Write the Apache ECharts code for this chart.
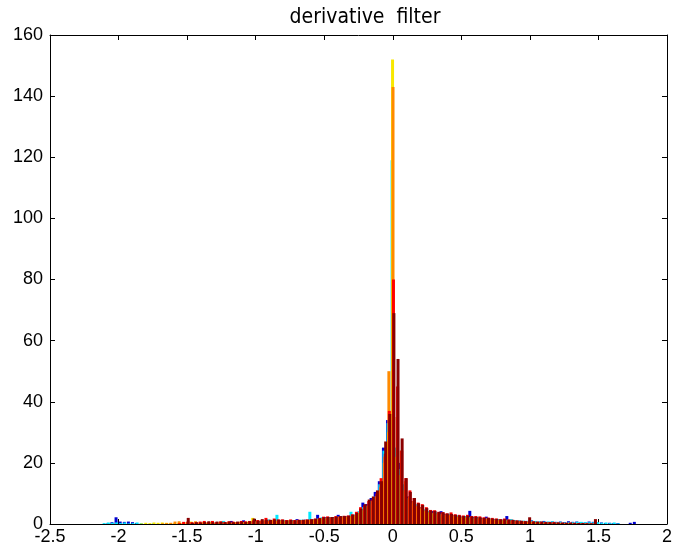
<!DOCTYPE html>
<html>
<head>
<meta charset="utf-8">
<script src="https://cdn.jsdelivr.net/npm/echarts@6/dist/echarts.min.js"></script>
<style>
  html, body { margin: 0; padding: 0; background: #fff; }
  #chart { width: 675px; height: 557px; }
</style>
</head>
<body>
<div id="chart"></div>
<script>
// bin centres, 0.03 wide, from -2.10 to 1.80
var binWidth = 0.03;
var bins = [];
for (var k = -70; k <= 60; k++) {
    bins.push(+(k * binWidth).toFixed(2));
}

// counts per bin, one array per column (jet colours)
var blueCounts = [
    0, 0.2, 0.6, 2.2, 0.8, 0.7, 0.8, 0.6, 0.3, 0,
    0, 0, 0, 0, 0, 0, 0, 0, 0, 0,
    0, 0, 0, 0, 0, 0, 0, 0, 0.2, 0.3,
    0.3, 1.0, 0.4, 0.5, 1.2, 0.6, 0.8, 0.7, 0.9, 0.8,
    1.1, 1.0, 1.2, 1.3, 1.0, 1.1, 1.2, 1.6, 1.3, 1.4,
    1.5, 1.6, 3.0, 2.0, 2.2, 2.0, 2.3, 3.0, 2.5, 2.6,
    2.8, 3.0, 4.0, 7.0, 6.5, 8.5, 10.5, 14, 25, 34,
    30, 20, 20, 12, 9, 7.5, 6, 5.5, 4.5, 4,
    4.2, 3.5, 4.2, 3.2, 3.0, 2.8, 2.6, 2.4, 2.5, 4.3,
    2.2, 2.0, 1.9, 2.4, 1.7, 1.6, 1.5, 1.4, 2.6, 1.3,
    1.2, 1.1, 1.0, 1.0, 1.2, 0.9, 0.8, 1.0, 0.7, 0.8,
    0.7, 0.8, 0.6, 0.9, 0.7, 0.8, 0.6, 0.5, 0.8, 0.7,
    0.4, 0.5, 0.3, 0.4, 0.3, 0.3, 0, 0, 0.4, 0.7, 0
];
var cyanCounts = [
    0.3, 0.5, 0.4, 0.5, 0.3, 0.5, 0.2, 0.3, 0.5, 0.3,
    0, 0, 0.2, 0, 0, 0, 0, 0, 0, 0,
    0, 0, 0, 0, 0.2, 0, 0.3, 0, 0.3, 1.0,
    0.4, 0.5, 0.3, 0.6, 0.5, 0.4, 0.6, 0.8, 0.6, 1.0,
    1.5, 1.2, 3.0, 1.1, 1.2, 1.0, 1.3, 1.2, 1.4, 1.2,
    4.0, 1.5, 1.8, 2.2, 2.0, 2.3, 2.1, 2.4, 2.6, 2.5,
    4.0, 3.1, 4.2, 5.5, 6.0, 7.5, 9.0, 13, 24, 33,
    119, 25, 18, 13, 8.5, 7, 6.5, 5, 4.8, 4.2,
    3.6, 3.8, 3.3, 3.0, 3.4, 2.6, 2.8, 2.2, 2.6, 2.3,
    2.0, 2.3, 1.8, 1.9, 1.8, 1.5, 1.6, 1.3, 1.4, 1.6,
    1.3, 1.2, 1.1, 1.0, 1.1, 1.0, 0.9, 0.8, 0.8, 0.9,
    0.6, 0.7, 0.5, 0.6, 0.6, 0.7, 0.7, 0.6, 0.6, 0.6,
    0.6, 0.4, 0.5, 0.3, 0.5, 0.2, 0, 0, 0, 0, 0
];
var yellowCounts = [
    0, 0, 0, 0, 0, 0, 0, 0, 0, 0.2,
    0.4, 0.3, 0.5, 0.4, 0.5, 0.4, 0.3, 0.3, 0.4, 0.3,
    0.5, 0.8, 0.4, 0.3, 0.5, 0.4, 0.6, 0.3, 0.5, 0.4,
    0.5, 0.3, 0.6, 0.4, 0.6, 0.8, 2.0, 0.9, 1.0, 1.2,
    0.9, 1.3, 1.0, 1.2, 0.9, 1.2, 1.0, 1.1, 1.2, 1.3,
    1.3, 1.4, 1.5, 1.8, 1.9, 1.8, 2.0, 2.1, 2.2, 2.3,
    2.5, 2.8, 3.5, 4.5, 5.5, 6.5, 8.0, 11, 20, 30,
    152, 22, 16, 11, 8, 6.5, 5.5, 5, 4.2, 3.8,
    3.5, 3.2, 3.0, 2.8, 2.7, 2.5, 2.3, 2.1, 2.0, 1.9,
    1.8, 1.7, 1.6, 1.5, 1.4, 1.3, 1.2, 1.2, 1.1, 1.0,
    0.9, 0.8, 0.7, 0.6, 0.6, 0.5, 0.5, 0.4, 0.4, 0.3,
    0.3, 0.3, 0.2, 0.2, 0.2, 0.2, 0.1, 0.1, 0.1, 0,
    0, 0, 0, 0, 0, 0, 0, 0, 0, 0, 0
];
var orangeCounts = [
    0, 0, 0, 0, 0, 0, 0, 0, 0, 0,
    0, 0, 0, 0, 0.2, 0.3, 0.4, 0.8, 0.9, 0.5,
    0.6, 0.5, 0.9, 0.5, 0.6, 0.4, 0.5, 0.4, 0.6, 0.3,
    0.6, 0.4, 0.5, 0.7, 0.5, 0.6, 0.8, 1.0, 0.8, 1.1,
    1.0, 1.2, 1.1, 1.0, 1.1, 1.3, 1.1, 1.2, 1.1, 1.2,
    1.4, 1.5, 1.6, 1.9, 2.0, 2.1, 2.2, 2.3, 2.4, 2.5,
    2.7, 3.0, 4.0, 5.0, 6.0, 7.5, 9.0, 12, 22, 50,
    143, 35, 24, 14, 9, 7.5, 6, 5.5, 4.6, 4.0,
    3.8, 3.6, 3.4, 3.1, 3.0, 2.8, 2.5, 2.4, 2.3, 2.2,
    2.1, 2.0, 1.8, 1.7, 1.6, 1.5, 1.4, 1.3, 1.2, 1.1,
    1.0, 0.9, 0.8, 0.8, 0.7, 0.6, 0.6, 0.5, 0.5, 0.4,
    0.4, 0.3, 0.3, 0.3, 0.2, 0.2, 0.2, 0.2, 0.1, 0.1,
    0, 0, 0, 0, 0, 0, 0, 0, 0, 0, 0
];
var redCounts = [
    0, 0, 0, 0, 0, 0, 0, 0, 0, 0,
    0, 0, 0, 0, 0, 0, 0, 0, 0.3, 0.7,
    0.8, 0.6, 0.5, 0.8, 1.0, 0.6, 1.0, 0.6, 0.9, 0.7,
    0.9, 0.8, 0.6, 1.0, 0.9, 1.0, 1.2, 1.3, 1.2, 2.0,
    1.4, 1.8, 1.5, 1.5, 1.3, 1.5, 1.3, 1.4, 1.3, 1.5,
    1.6, 1.8, 2.0, 2.4, 2.5, 2.2, 2.6, 2.5, 2.7, 2.8,
    3.2, 4.0, 5.5, 6.0, 7.5, 8.0, 10, 15, 23, 37,
    80, 45, 24, 15, 11, 8.5, 7, 6.5, 5.5, 4.6,
    4.5, 4.0, 3.9, 3.5, 3.8, 3.2, 3.0, 2.8, 3.0, 2.6,
    2.6, 2.5, 2.2, 2.1, 2.0, 1.8, 1.6, 1.8, 1.5, 1.4,
    1.2, 1.1, 1.0, 1.0, 0.9, 0.8, 0.8, 0.7, 0.6, 0.7,
    0.5, 0.5, 0.4, 0.5, 0.4, 0.3, 0.3, 0.2, 0.2, 0.3,
    0, 0, 0, 0, 0, 0, 0, 0, 0, 0, 0
];
var darkRedCounts = [
    0, 0, 0, 0, 0, 0, 0, 0, 0, 0,
    0, 0, 0, 0, 0, 0, 0, 0, 0, 0,
    2.0, 0.4, 0.6, 0.5, 0.7, 0.9, 0.6, 0.8, 0.7, 0.6,
    0.8, 0.6, 0.8, 0.8, 0.7, 0.9, 1.8, 1.1, 1.6, 1.4,
    1.3, 1.5, 1.4, 1.4, 1.2, 1.3, 1.2, 1.3, 1.4, 1.4,
    1.5, 1.7, 1.9, 2.2, 2.3, 2.3, 2.4, 2.6, 2.6, 2.7,
    3.0, 3.6, 5.0, 6.5, 8.0, 9.0, 11, 14, 27, 36,
    69, 54, 28, 15, 10.5, 8.5, 6.8, 6.2, 5.2, 4.4,
    4.3, 3.9, 3.8, 3.4, 3.3, 3.0, 2.8, 2.6, 2.7, 2.5,
    2.4, 2.2, 2.0, 2.0, 1.8, 1.7, 1.5, 1.6, 1.4, 1.3,
    1.1, 1.0, 0.9, 2.2, 0.8, 0.7, 0.7, 0.6, 0.6, 0.5,
    0.5, 0.4, 0.4, 0.4, 0.3, 0.3, 0.3, 0.2, 0.2, 1.6,
    0, 0, 0, 0, 0, 0, 0, 0, 0, 0, 0
];

var columns = [blueCounts, cyanCounts, yellowCounts, orangeCounts, redCounts, darkRedCounts];
var colors = ['#0000D0', '#00E8FF', '#F8E800', '#FF8A00', '#FF0000', '#8A0000'];

var xTicks = { min: -2.5, max: 2, interval: 0.5 };
var yTicks = { min: 0, max: 160, interval: 20 };

var font = "'Liberation Sans', Arial, sans-serif";

var series = [];
for (var c = 0; c < columns.length; c++) {
    var pts = [];
    for (var i = 0; i < bins.length; i++) {
        pts.push([bins[i], columns[c][i]]);
    }
    series.push({
        type: 'bar',
        data: pts,
        xAxisIndex: 0,
        yAxisIndex: 0,
        barWidth: 3,
        barGap: '-85%',
        itemStyle: { color: colors[c] },
        silent: true
    });
}

function boxAxis(pos, ticks, showLabel) {
    return {
        type: 'value',
        position: pos,
        min: ticks.min,
        max: ticks.max,
        interval: ticks.interval,
        axisLine: { show: true, onZero: false, lineStyle: { color: '#000', width: 1 } },
        axisTick: { show: true, inside: true, length: 5, lineStyle: { color: '#000' } },
        axisLabel: {
            show: showLabel,
            color: '#000',
            fontSize: 18,
            fontFamily: font,
            margin: pos === 'left' ? 7 : 4
        },
        splitLine: { show: false }
    };
}

var myChart = echarts.init(document.getElementById('chart'), null, { renderer: 'canvas' });
myChart.setOption({
    animation: false,
    backgroundColor: '#fff',
    title: {
        text: 'derivative  filter',
        left: 360,
        top: 2,
        textAlign: 'center',
        textStyle: {
            fontFamily: "'Liberation Sans Narrow', 'Arial Narrow', 'DejaVu Sans Condensed', 'Liberation Sans', sans-serif",
            fontWeight: 'normal',
            fontSize: 21,
            color: '#000'
        }
    },
    grid: { left: 50, right: 5, top: 35, bottom: 33 },
    xAxis: [boxAxis('bottom', xTicks, true), boxAxis('top', xTicks, false)],
    yAxis: [boxAxis('left', yTicks, true), boxAxis('right', yTicks, false)],
    series: series
});
</script>
</body>
</html>
